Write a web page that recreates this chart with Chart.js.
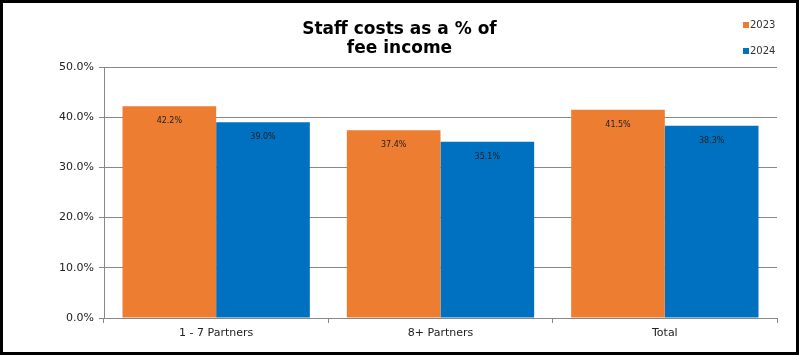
<!DOCTYPE html>
<html>
<head>
<meta charset="utf-8">
<script src="https://cdn.jsdelivr.net/npm/chart.js@4"></script>
<style>
  html, body { margin: 0; padding: 0; background: #fff; }
  #wrap { width: 799px; height: 355px; box-sizing: border-box; border: 3px solid #000; background: #fff; }
  canvas { display: block; }
</style>
</head>
<body>
<div id="wrap"><canvas id="c" width="793" height="349"></canvas></div>
<script>
const categories = ['1 - 7 Partners', '8+ Partners', 'Total'];
const seriesNames = ['2023', '2024'];
const values2023 = [42.2, 37.4, 41.5];
const values2024 = [39.0, 35.1, 38.3];
const titleLines = ['Staff costs as a % of', 'fee income'];

const FONT = "'DejaVu Sans', Verdana, sans-serif";
const COLORS = ['#ED7D31', '#0070C0'];

const barLabels = {
  id: 'barLabels',
  afterDatasetsDraw(chart) {
    const ctx = chart.ctx;
    ctx.save();
    ctx.font = '8px ' + FONT;
    ctx.fillStyle = '#222222';
    ctx.textAlign = 'center';
    ctx.textBaseline = 'middle';
    chart.data.datasets.forEach((ds, i) => {
      const meta = chart.getDatasetMeta(i);
      meta.data.forEach((bar, j) => {
        ctx.fillText(ds.data[j].toFixed(1) + '%', bar.x, bar.y + 15);
      });
    });
    ctx.restore();
  }
};

const customLegend = {
  id: 'customLegend',
  afterDraw(chart) {
    const ctx = chart.ctx;
    ctx.save();
    ctx.font = '10px ' + FONT;
    ctx.textBaseline = 'middle';
    ctx.textAlign = 'left';
    const x = 740, ys = [22, 48];
    chart.data.datasets.forEach((ds, i) => {
      ctx.fillStyle = ds.backgroundColor;
      ctx.fillRect(x, ys[i] - 3, 6, 6);
      ctx.fillStyle = '#333333';
      ctx.fillText(ds.label, x + 7, ys[i]);
    });
    ctx.restore();
  }
};

new Chart(document.getElementById('c'), {
  type: 'bar',
  data: {
    labels: categories,
    datasets: [
      { label: seriesNames[0], data: values2023, backgroundColor: COLORS[0], categoryPercentage: 0.835, barPercentage: 1.0 },
      { label: seriesNames[1], data: values2024, backgroundColor: COLORS[1], categoryPercentage: 0.835, barPercentage: 1.0 }
    ]
  },
  options: {
    responsive: false,
    animation: false,
    events: [],
    layout: { padding: { left: 19, right: 19, top: 0, bottom: 0 } },
    plugins: {
      legend: { display: false },
      tooltip: { enabled: false },
      title: {
        display: true,
        text: titleLines,
        color: '#000',
        font: { family: FONT, size: 17, weight: 'bold', lineHeight: 1.12 },
        padding: { top: 17, bottom: 9 }
      }
    },
    scales: {
      x: {
        grid: { drawOnChartArea: false, drawTicks: true, tickLength: 5, color: '#888', offset: true },
        border: { color: '#888', width: 1 },
        ticks: { color: '#222', font: { family: FONT, size: 11 }, padding: 4 },
        afterFit(scale) { scale.height = 34; }
      },
      y: {
        min: 0, max: 50,
        ticks: { stepSize: 10, color: '#222', font: { family: FONT, size: 11 }, padding: 5,
                 callback: v => v.toFixed(1) + '%' },
        grid: { color: '#888', tickLength: 5 },
        border: { color: '#888', width: 1 },
        afterFit(scale) { scale.width = 82; }
      }
    }
  },
  plugins: [barLabels, customLegend]
});
</script>
</body>
</html>
